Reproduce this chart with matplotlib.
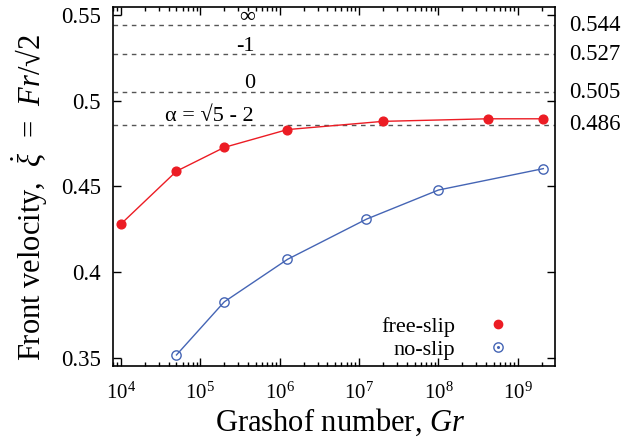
import matplotlib
matplotlib.use('Agg')
import matplotlib.pyplot as plt
from matplotlib.lines import Line2D
from matplotlib.ticker import LogLocator, FixedLocator, NullLocator

# ---- DATA ----
gr_free = [1e4, 5e4, 2e5, 1.25e6, 2e7, 4.2e8, 2.1e9]
xi_free = [0.428, 0.4588, 0.4727, 0.4831, 0.4879, 0.4894, 0.4894]

gr_noslip = [5e4, 2e5, 1.25e6, 1.24e7, 1e8, 2.1e9]
xi_noslip = [0.3515, 0.3825, 0.4073, 0.4308, 0.4478, 0.4603]

alpha_levels = [0.544, 0.527, 0.505, 0.486]
alpha_labels = ['\u221e', '-1', '0', '\u03b1 = \u221a5 - 2']
alpha_label_x = [3.9e5, 3.7e5, 4.2e5, 1.3e5]

# ---- STYLE ----
plt.rcParams['font.family'] = ['Liberation Serif', 'DejaVu Serif']
plt.rcParams['mathtext.fontset'] = 'custom'
plt.rcParams['mathtext.rm'] = 'Liberation Serif'
plt.rcParams['mathtext.it'] = 'Liberation Serif:italic'
plt.rcParams['mathtext.bf'] = 'Liberation Serif:bold'

red = '#ec1c24'
blue = '#4565b5'
fs = 16

fig = plt.figure(figsize=(6.31, 4.40), dpi=100)
ax = fig.add_axes([0.1796, 0.168, 0.70, 0.815])

# reference levels
for lev in alpha_levels:
    ax.axhline(lev, color='#555555', lw=1.0, ls=(0, (3.3, 3.3)), zorder=1)
for xt, lev, lab in zip(alpha_label_x, alpha_levels, alpha_labels):
    ax.text(xt, lev + 0.0022, lab, ha='center', va='baseline', fontsize=fs)
    ax.text(1.032, lev, f'{lev:.3f}', transform=ax.get_yaxis_transform(),
            ha='left', va='center', fontsize=fs + 0.5)

ax.plot(gr_free, xi_free, color=red, lw=1.0, marker='o', ms=6.3,
        mfc=red, mec=red, zorder=3)
ax.plot(gr_noslip, xi_noslip, color=blue, lw=1.0, marker='o', ms=6.7,
        mfc='none', mec=blue, mew=1.0, zorder=3)

ax.set_xscale('log')
ax.set_xlim(8e3, 2.95e9)
ax.set_ylim(0.345, 0.5544)

ax.xaxis.set_major_locator(FixedLocator([1e4, 1e5, 1e6, 1e7, 1e8, 1e9]))
ax.xaxis.set_minor_locator(LogLocator(base=10, subs=range(2, 10), numticks=20))
ax.set_yticks([0.35, 0.4, 0.45, 0.5, 0.55])
ax.set_yticklabels(['0.35', '0.4', '0.45', '0.5', '0.55'])
ax.yaxis.set_minor_locator(NullLocator())

ax.tick_params(which='both', direction='in', top=True, right=True, width=1.0)
ax.tick_params(which='major', length=6)
ax.tick_params(which='minor', length=3)
ax.tick_params(axis='y', pad=9, labelsize=fs + 0.5)
ax.tick_params(axis='x', pad=12, labelsize=15)
for s in ax.spines.values():
    s.set_linewidth(1.2)

ax.set_xlabel('Grashof number, $\\it{Gr}$', fontsize=22)
ax.set_ylabel('Front velocity,  $\\dot{\\xi}$  =  $\\it{Fr}$/\u221a2', fontsize=22)
ax.xaxis.set_label_coords(0.513, -0.114)
ax.yaxis.set_label_coords(-0.143, 0.47)

# legend: text on the left, marker on the right
h_free = Line2D([], [], ls='none', marker='o', ms=6, mfc=red, mec=red)
h_ring = Line2D([], [], ls='none', marker='o', ms=6.7, mfc='none', mec=blue, mew=1.0)
h_dot = Line2D([], [], ls='none', marker='o', ms=1.2, mfc=blue, mec=blue)
ax.legend([h_free, (h_ring, h_dot)], ['free-slip', 'no-slip'],
          loc='lower right', bbox_to_anchor=(0.906, 0.005), borderaxespad=0,
          frameon=False, markerfirst=False, fontsize=fs, handlelength=1.0,
          handletextpad=1.43, labelspacing=0.12, borderpad=0.2)

fig.savefig('out.png', dpi=100)
